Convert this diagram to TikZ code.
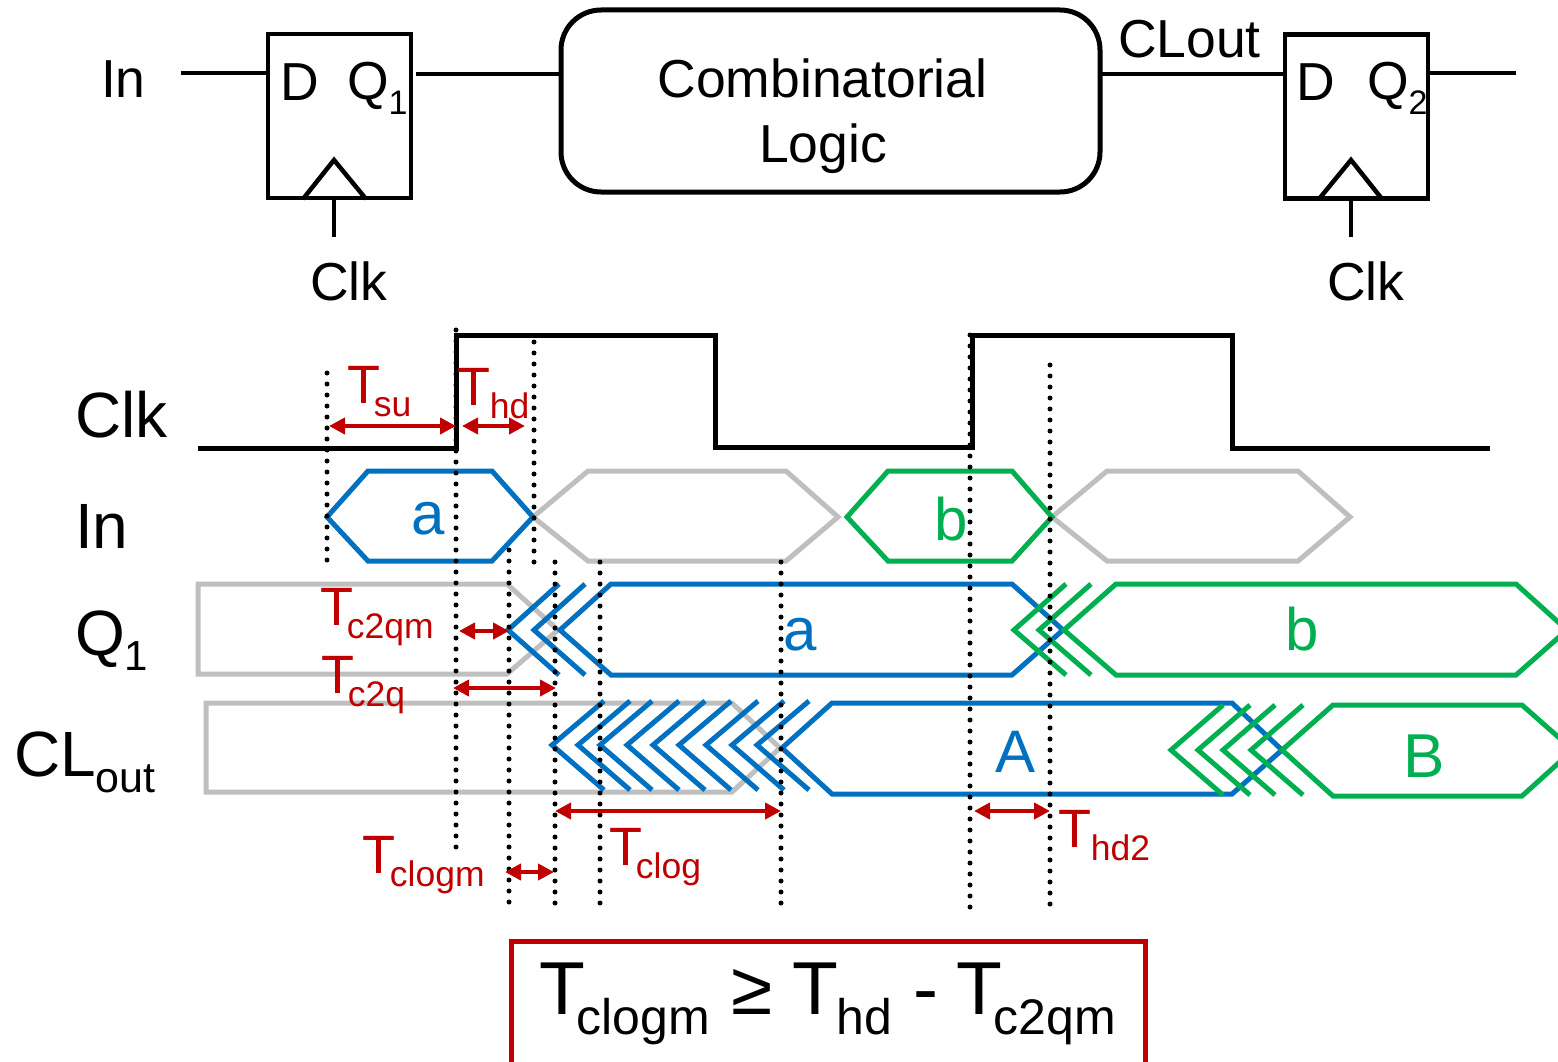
\documentclass[tikz,border=0pt]{standalone}
\usepackage{fontspec}
\setmainfont{Liberation Sans}
\usetikzlibrary{arrows.meta,positioning,calc}
\definecolor{dblue}{HTML}{0070C0}
\definecolor{dgreen}{HTML}{00B050}
\definecolor{dgrey}{HTML}{BFBFBF}
\definecolor{dred}{HTML}{C00000}
\newcommand{\fs}[1]{\fontsize{#1}{#1}\selectfont}
\newcommand{\Tsub}[2][0pt]{T\hspace{#1}\raisebox{-13pt}{\fs{35.5}#2}}
\newcommand{\Tbig}[2][0pt]{T\hspace{#1}\raisebox{-20pt}{\fs{50}#2}}
\newcommand{\Qsub}[1]{Q\raisebox{-15pt}{\fs{34}#1}}
\begin{document}
\begin{tikzpicture}[x=1pt,y=-1pt,
  every node/.style={inner sep=0pt, outer sep=0pt},
  wire/.style={line width=4.5pt},
  wave/.style={line width=5pt, line join=miter},
  dots/.style={line width=5pt, line cap=round, dash pattern=on 0pt off 11pt},
  dim/.style={line width=4.5pt, dred, {Triangle[length=16pt,width=16pt]}-{Triangle[length=16pt,width=16pt]}},
  txt/.style={anchor=base west, font=\fs{53.5}},
  sig/.style={anchor=base west, font=\fs{64}},
  lab/.style={anchor=base, font=\fs{60}},
  rlab/.style={anchor=base west, font=\fs{54}, text=dred},
  ff/.style={draw, line width=4.5pt, minimum width=143pt, minimum height=164pt}]
\useasboundingbox (0,0) rectangle (1558,1062);
\clip (0,0) rectangle (1558,1062);
% flip-flops and logic
\node[ff] (ffa) at (339.5,116) {};
\node[ff] (ffb) at (1356.5,116.5) {};
\node[draw, line width=5pt, rounded corners=40pt, minimum width=539pt, minimum height=182pt] (logic) at (830.5,101) {};
\node[anchor=base, font=\fs{53.5}] (logica) at (822.5,98) {Combinatorial};
\node[anchor=base, font=\fs{53.5}] (logicb) at (823,162) {Logic};
\coordinate (ina) at (181,73);
\coordinate (qaout) at (416,74);
\coordinate (clo) at (1100,74);
\coordinate (outb) at (1516,73);
\coordinate (clka) at (334,237);
\coordinate (clkb) at (1351,237);
\draw[wire] (ina) -- (ina -| ffa.west);
\draw[wire] (qaout) -- (qaout -| logic.west);
\draw[wire] (clo) -- (clo -| ffb.west);
\draw[wire] (outb -| ffb.east) -- (outb);
\draw[wire] (clka) -- (clka |- ffa.south);
\draw[wire] (clkb) -- (clkb |- ffb.south);
\draw[wire, miter limit=2] (303,199) -- (334,160) -- (366,199);
\draw[wire, miter limit=2] (1319,199) -- (1351,160) -- (1382,199);
\node[txt] (tin) at (101,98) {In};
\node[txt] (da) at (280,101) {D};
\node[txt] (qa) at (347,100) {\Qsub{1}};
\node[txt] (ca) at (310,300) {Clk};
\node[txt] (cl) at (1118,58) {CLout};
\node[txt] (db) at (1296,101) {D};
\node[txt] (qb) at (1367,100) {\Qsub{2}};
\node[txt] (cb) at (1327,300) {Clk};
% signal names
\node[sig] (sclk) at (75,437) {Clk};
\node[sig] (sin) at (75,548) {In};
\node[sig] (sq) at (75,655) {Q\raisebox{-15pt}{\fs{42}1}};
\node[sig] (scl) at (14,776) {CL\raisebox{-16pt}{\fs{43}out}};
% clock
\draw[wave] (198,448) -- (456,448) -- (456,335) -- (715,335) -- (715,447) -- (972,447) -- (972,335) -- (1232,335) -- (1232,448) -- (1490,448);
% In
\draw[wave, dgrey] (533,517) -- (588,471) -- (786,471) -- (838,517) -- (786,561) -- (588,561) -- cycle;
\draw[wave, dgrey] (1052,517) -- (1107,471) -- (1298,471) -- (1350,517) -- (1298,561) -- (1107,561) -- cycle;
\draw[wave, dblue] (327,517) -- (368,471) -- (492,471) -- (533,517) -- (492,561) -- (368,561) -- cycle;
\draw[wave, dgreen] (847,517) -- (888,471) -- (1012,471) -- (1052,517) -- (1012,561) -- (888,561) -- cycle;
% Q1
\draw[wave, dgrey] (507,584) -- (198,584) -- (198,674) -- (507,674) -- (558,630) -- cycle;
\foreach \tip in {508,534}
  \draw[wave, dblue] (\tip+51,584) -- (\tip,630) -- (\tip+51,675);
\draw[wave, dblue] (1012,584) -- (611,584) -- (560,630) -- (611,675) -- (1012,675) -- (1063,630) -- cycle;
\foreach \tip in {1014,1039}
  \draw[wave, dgreen] (\tip+52,584) -- (\tip,630) -- (\tip+52,675);
\draw[wave, dgreen] (1516,584) -- (1116,584) -- (1064,630) -- (1116,675) -- (1516,675) -- (1567,630) -- cycle;
% CLout
\draw[wave, dgrey] (732,703) -- (206,703) -- (206,792) -- (732,792) -- (780,748) -- cycle;
\foreach \tip in {552,578,600,627,653,679,706,732,757}
  \draw[wave, dblue] (\tip+52,701) -- (\tip,745) -- (\tip+52,790);
\draw[wave, dblue] (1232,703) -- (832,703) -- (782,748) -- (832,794) -- (1232,794) -- (1282,750) -- cycle;
\foreach \tip in {1171,1198,1223,1251}
  \draw[wave, dgreen] (\tip+52,705) -- (\tip,750) -- (\tip+52,795);
\draw[wave, dgreen] (1522,705) -- (1333,705) -- (1282,750) -- (1333,796) -- (1522,796) -- (1573,750) -- cycle;
% values
\node[lab, text=dblue] (va) at (428,534) {a};
\node[lab, text=dgreen] (vb) at (951,540) {b};
\node[lab, text=dblue] (vaa) at (800,650) {a};
\node[lab, text=dgreen] (vbb) at (1302,650) {b};
\node[lab, text=dblue] (vca) at (1015,772) {A};
\node[lab, font=\fs{62}, text=dgreen] (vcb) at (1424,777) {B};
% timing marks
\foreach \xx/\ya/\yb in {327/373/565, 456/330/848, 534/342/565, 509/550/905, 555/562/905, 600/562/905, 781/562/905, 970/335/915, 1050/365/905}
  \draw[dots] (\xx,\ya) -- (\xx,\yb);
\foreach \nm/\xa/\xb/\yy in {su/329/456/426, hd/462/525/426, cqm/459/509/631, cq/453/556/688, clm/505/554/872, cl/555/781/811, hdb/974/1050/811} {
  \coordinate (\nm-a) at (\xa,\yy);
  \coordinate (\nm-b) at (\xb,\yy);
  \draw[dim] (\nm-a) -- (\nm-b);
}
\node[rlab] (tsu) at (347,403) {\Tsub[-6pt]{su}};
\node[rlab] (thd) at (457,405) {\Tsub{hd}};
\node[rlab] (tcqm) at (320,625) {\Tsub[-6pt]{c2qm}};
\node[rlab] (tcq) at (321,693) {\Tsub[-6pt]{c2q}};
\node[rlab] (tclm) at (362,873) {\Tsub[-5pt]{clogm}};
\node[rlab] (tcl) at (609,865) {\Tsub[-6pt]{clog}};
\node[rlab] (thdb) at (1058,847) {\Tsub{hd2}};
% constraint
\draw[line width=5pt, dred] (511,1070) -- (511,941) -- (1145,941) -- (1145,1070);
\node[anchor=base west, font=\fs{75}] (eq) at (539,1014) {\Tbig[-8pt]{clogm} ≥ \Tbig[-2pt]{hd} - \hspace{-3pt}\Tbig[-8pt]{c2qm}};
\end{tikzpicture}
\end{document}
